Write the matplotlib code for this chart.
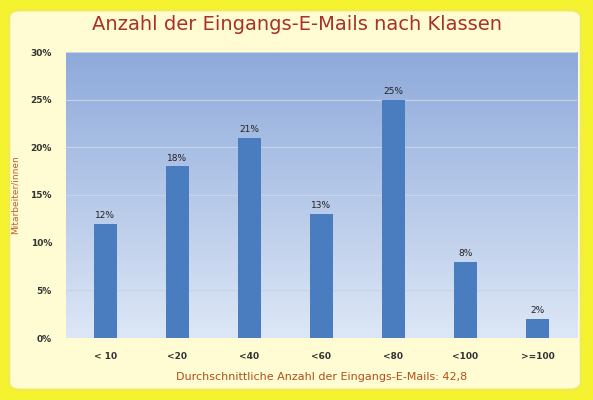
import matplotlib
matplotlib.use("Agg")
import matplotlib.pyplot as plt
import numpy as np
from matplotlib.patches import FancyBboxPatch
from matplotlib.colors import LinearSegmentedColormap

categories = ["< 10", "<20", "<40", "<60", "<80", "<100", ">=100"]
values = [12, 18, 21, 13, 25, 8, 2]
value_labels = ["12%", "18%", "21%", "13%", "25%", "8%", "2%"]
yticks = [0, 5, 10, 15, 20, 25, 30]

fig = plt.figure(figsize=(5.93, 4.0), dpi=100)
fig.patch.set_facecolor("#f5f230")
bg = FancyBboxPatch((0.015, 0.025), 0.965, 0.95, boxstyle="round,pad=0.0,rounding_size=0.02",
                    transform=fig.transFigure, facecolor="#fffbd2", edgecolor="#f0ec50", lw=2, zorder=-10)
fig.patches.append(bg)

ax = fig.add_axes([0.111, 0.155, 0.862, 0.715])
ax.set_zorder(5)
ax.patch.set_alpha(0)
grad = np.linspace(0, 1, 256).reshape(-1, 1)
cmap = LinearSegmentedColormap.from_list("g", ["#dde7f6", "#8eaadb"])
ax.imshow(grad, aspect="auto", cmap=cmap, origin="lower", extent=[0, 1, 0, 1],
          transform=ax.transAxes, zorder=0)
x = np.arange(len(categories))
ax.bar(x, values, width=0.33, color="#4a7cc0", zorder=3)
for xi, v, l in zip(x, values, value_labels):
    ax.text(xi, v + 0.4, l, ha="center", va="bottom", fontsize=6.5, color="#222222", zorder=4)
ax.set_xlim(-0.55, len(categories) - 0.45)
ax.set_ylim(0, 30)
ax.set_yticks(yticks)
ax.set_yticklabels([f"{t}%" for t in yticks], fontsize=6.5, fontweight="bold", color="#333333")
ax.set_xticks(x)
ax.set_xticklabels(categories, fontsize=6.5, fontweight="bold", color="#333333")
ax.yaxis.grid(True, color="#c8d3e8", lw=0.8, zorder=1)
ax.tick_params(length=0, pad=10)
for s in ax.spines.values():
    s.set_visible(False)
ax.set_ylabel("Mitarbeiter/innen", fontsize=6.5, color="#c0602a", labelpad=8)
ax.set_xlabel("Durchschnittliche Anzahl der Eingangs-E-Mails: 42,8", fontsize=8, color="#b0501c", labelpad=8)
fig.text(0.5, 0.94, "Anzahl der Eingangs-E-Mails nach Klassen", ha="center", va="center",
         fontsize=14, color="#a8322a")
fig.savefig("out.png", dpi=100, facecolor=fig.get_facecolor())
